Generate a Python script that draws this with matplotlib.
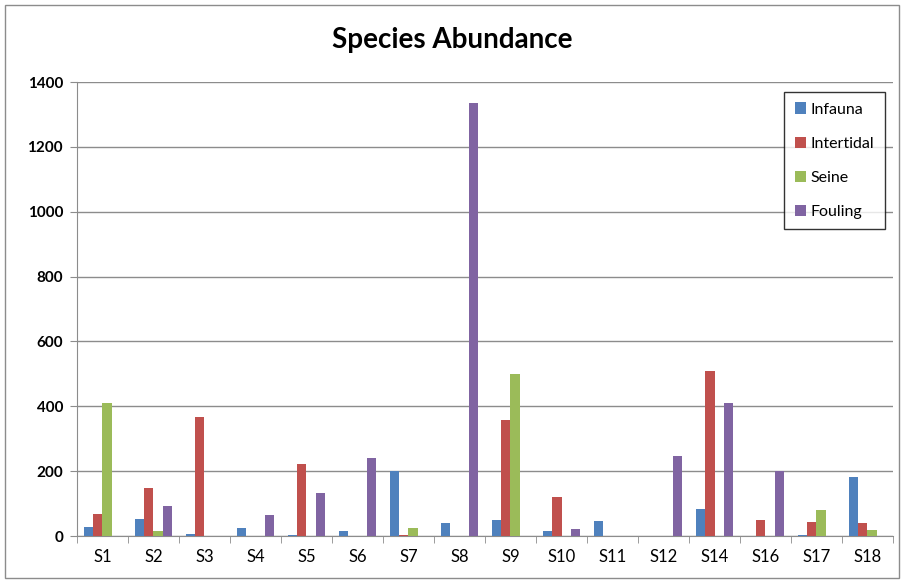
import matplotlib
matplotlib.use('Agg')
import matplotlib.pyplot as plt
import numpy as np
from matplotlib.patches import Rectangle

plt.rcParams['font.family'] = ['Lato', 'DejaVu Sans']

sites = ['S1', 'S2', 'S3', 'S4', 'S5', 'S6', 'S7', 'S8', 'S9',
         'S10', 'S11', 'S12', 'S14', 'S16', 'S17', 'S18']
infauna = [28, 52, 7, 25, 4, 14, 200, 39, 49, 14, 46, 0, 84, 0, 3, 181]
intertidal = [67, 149, 367, 0, 221, 0, 3, 0, 357, 119, 0, 0, 509, 49, 42, 39]
seine = [409, 14, 0, 0, 0, 0, 25, 0, 501, 0, 0, 0, 0, 0, 81, 18]
fouling = [0, 94, 0, 66, 132, 239, 0, 1335, 0, 21, 0, 246, 409, 200, 0, 0]

series = [('Infauna', infauna, '#4F81BD'),
          ('Intertidal', intertidal, '#C0504D'),
          ('Seine', seine, '#9BBB59'),
          ('Fouling', fouling, '#8064A2')]

fig = plt.figure(figsize=(9.04, 5.82), dpi=100)
ax = fig.add_axes([77/904, 1-536/582, 816/904, 454/582])

x = np.arange(len(sites))
w = 0.185
for i, (name, vals, col) in enumerate(series):
    ax.bar(x + (i - 1.5)*w, vals, w, color=col, label=name, zorder=3)

ax.set_xlim(-0.5, len(sites) - 0.5)
ax.set_ylim(0, 1400)
ax.set_yticks(np.arange(0, 1401, 200))
ax.set_yticklabels([str(v) for v in range(0, 1401, 200)], fontweight='bold')
ax.yaxis.grid(True, color='#8c8c8c', lw=1.0, zorder=0)
ax.set_xticks(x)
ax.set_xticklabels(sites, fontsize=12)
ax.set_xticks(np.arange(-0.5, len(sites), 1), minor=True)
ax.tick_params(axis='x', which='major', length=0, pad=9)
ax.tick_params(axis='x', which='minor', length=5, color='#8c8c8c', direction='out')
ax.tick_params(axis='y', length=5, color='#8c8c8c', labelsize=11, pad=5)
for s in ['top', 'right']:
    ax.spines[s].set_visible(False)
for s in ['left', 'bottom']:
    ax.spines[s].set_color('#8c8c8c')

leg = ax.legend(loc='upper right', bbox_to_anchor=(0.990, 0.978), borderaxespad=0,
                fontsize=11.5, frameon=True, fancybox=False, edgecolor='black',
                handlelength=0.7, handleheight=0.7, handletextpad=0.3,
                labelspacing=1.25, borderpad=0.65)
leg.get_frame().set_linewidth(1.0)

fig.text(0.5, 1-40/582, 'Species Abundance', ha='center', va='center',
         fontsize=20, fontweight='bold')

fig.patches.append(Rectangle((5/904, 4/582), 894/904, 573/582,
                             transform=fig.transFigure, fill=False,
                             edgecolor='#8c8c8c', lw=1))

fig.savefig('out.png', dpi=100)
